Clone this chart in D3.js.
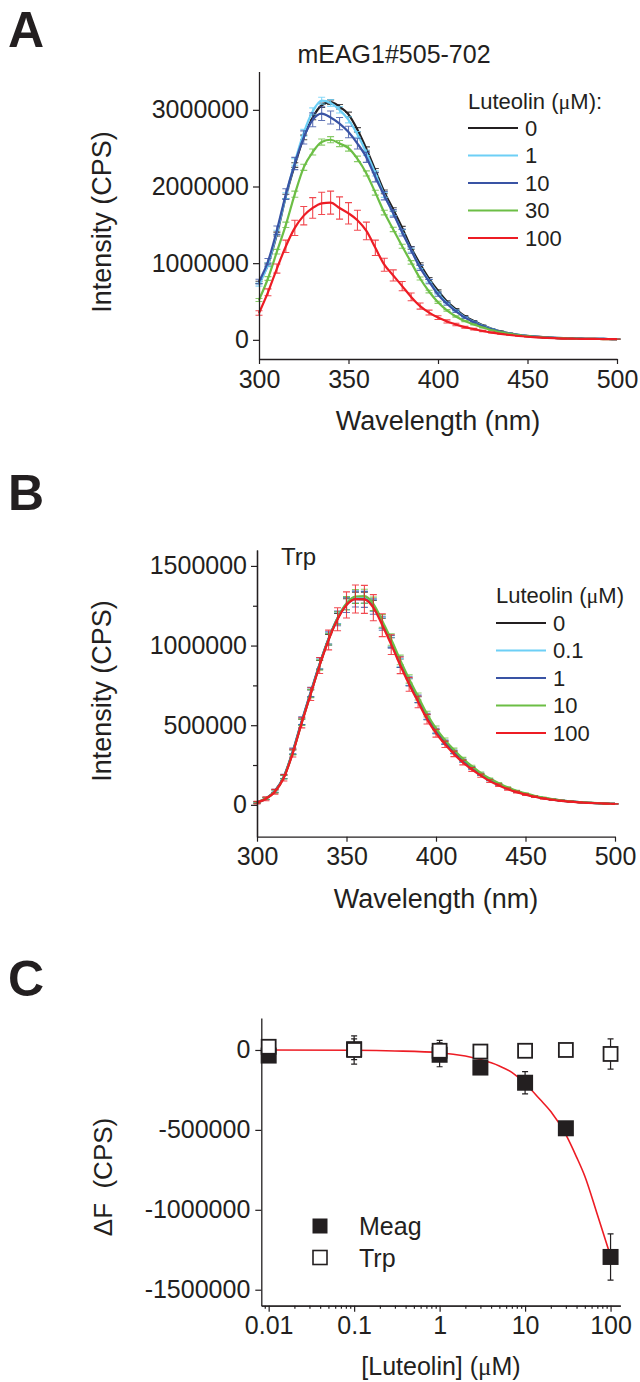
<!DOCTYPE html>
<html>
<head>
<meta charset="utf-8">
<script src="https://cdn.jsdelivr.net/npm/d3@7"></script>
<style>
	body { margin: 0; background: #fff; }
	svg { display: block; }
	text { font-family: "Liberation Sans", Arial, sans-serif; fill: #231f20; }
	.mu { font-family: "Liberation Serif", "Times New Roman", serif; }
</style>
</head>
<body>
<div id="chart-area"></div>
<script>
const WIDTH = 640
const HEIGHT = 1382
const INK = "#231f20"
const COLORS = ["#231f20", "#6dcff6", "#3953a4", "#6cbe45", "#ed1c24"]

// ---- data ----
// emission wavelengths (nm)
const wavelengths = [300, 305, 310, 315, 320, 325, 330, 335, 340, 345,
	350, 355, 360, 365, 370, 375, 380, 385, 390, 395,
	400, 405, 410, 415, 420, 425, 430, 435, 440, 445,
	450, 455, 460, 465, 470, 475, 480, 485, 490, 495, 500]
const wlTicks = [300, 350, 400, 450, 500]

// panel A: mEAG1#505-702, intensity in thousands of CPS
const aDoses = ["0", "1", "10", "30", "100"]
const aMean0 = [750, 980, 1380, 1870, 2280, 2640, 2900, 3060, 3100, 3040,
	2940, 2740, 2490, 2210, 1930, 1700, 1460, 1200, 990, 800,
	640, 500, 400, 310, 245, 190, 145, 110, 85, 66,
	52, 41, 33, 27, 22, 18, 15, 13, 12, 11, 10]
const aMean1 = [720, 980, 1400, 1880, 2320, 2700, 2980, 3120, 3090, 3000,
	2870, 2680, 2440, 2170, 1890, 1650, 1410, 1170, 950, 770,
	610, 480, 380, 295, 235, 182, 140, 106, 82, 64,
	50, 40, 32, 26, 21, 17, 15, 13, 12, 11, 10]
const aMean10 = [760, 1020, 1430, 1900, 2300, 2640, 2870, 2950, 2900, 2820,
	2710, 2560, 2380, 2120, 1880, 1650, 1400, 1170, 940, 760,
	590, 470, 370, 290, 230, 178, 137, 104, 80, 62,
	49, 39, 31, 25, 20, 17, 15, 13, 12, 11, 10]
const aMean30 = [520, 800, 1150, 1500, 1900, 2250, 2450, 2580, 2610, 2560,
	2500, 2360, 2170, 1920, 1660, 1440, 1220, 1010, 800, 630,
	490, 385, 305, 245, 200, 160, 125, 98, 77, 60,
	47, 37, 29, 24, 19, 16, 14, 12, 11, 10, 10]
const aMean100 = [350, 620, 930, 1220, 1460, 1620, 1720, 1780, 1790, 1720,
	1650, 1560, 1420, 1200, 980, 840, 700, 560, 440, 355,
	290, 240, 200, 165, 140, 115, 95, 78, 63, 50,
	40, 32, 26, 21, 17, 15, 13, 12, 11, 10, 10]
const aErr0 = [15, 20, 25, 28, 30, 30, 30, 30, 30, 30,
	30, 28, 27, 25, 24, 22, 20, 18, 16, 14,
	12, 10, 8, 6, 5, 4, 3, 3, 2, 2,
	2, 2, 2, 1, 1, 1, 1, 1, 1, 1, 1]
const aErr1 = [20, 25, 30, 38, 42, 45, 45, 45, 45, 42,
	40, 38, 36, 34, 32, 30, 27, 24, 20, 17,
	14, 11, 9, 7, 6, 5, 4, 3, 3, 2,
	2, 2, 2, 1, 1, 1, 1, 1, 1, 1, 1]
const aErr10 = [30, 40, 55, 70, 80, 85, 90, 90, 85, 80,
	75, 70, 65, 60, 55, 50, 45, 40, 34, 28,
	22, 18, 14, 11, 9, 7, 5, 4, 3, 3,
	2, 2, 2, 2, 1, 1, 1, 1, 1, 1, 1]
const aErr30 = [20, 25, 30, 35, 40, 40, 40, 40, 40, 40,
	38, 36, 34, 32, 30, 28, 26, 23, 20, 17,
	14, 11, 9, 7, 6, 5, 4, 3, 3, 2,
	2, 2, 2, 1, 1, 1, 1, 1, 1, 1, 1]
const aErr100 = [30, 45, 60, 80, 100, 120, 135, 145, 150, 145,
	140, 130, 115, 100, 85, 72, 60, 50, 40, 32,
	25, 20, 16, 12, 10, 8, 6, 5, 4, 3,
	3, 2, 2, 2, 2, 1, 1, 1, 1, 1, 1]
const aYTicks = [0, 1000000, 2000000, 3000000]

// panel B: free Trp, intensity in thousands of CPS
const bDoses = ["0", "0.1", "1", "10", "100"]
const bMean0 = [15, 40, 85, 175, 330, 520, 700, 880, 1040, 1170,
	1260, 1300, 1300, 1250, 1140, 1020, 890, 770, 660, 550,
	460, 390, 330, 275, 230, 190, 155, 128, 103, 83,
	67, 53, 42, 33, 26, 21, 16, 13, 10, 8, 6]
const bMean01 = [14, 38, 86, 176, 334, 524, 704, 884, 1044, 1174,
	1264, 1305, 1303, 1252, 1142, 1022, 892, 772, 662, 552,
	462, 392, 331, 276, 231, 191, 156, 129, 104, 84,
	68, 54, 43, 34, 27, 21, 17, 13, 10, 8, 6]
const bMean1 = [16, 41, 88, 178, 338, 528, 708, 886, 1044, 1170,
	1256, 1292, 1290, 1245, 1140, 1024, 896, 776, 666, 556,
	466, 395, 334, 279, 234, 193, 158, 130, 105, 85,
	68, 54, 43, 34, 27, 22, 17, 13, 10, 8, 6]
const bMean10 = [15, 40, 84, 174, 330, 518, 698, 878, 1040, 1172,
	1265, 1308, 1310, 1262, 1155, 1038, 910, 790, 680, 570,
	480, 408, 346, 290, 243, 201, 165, 136, 110, 89,
	72, 57, 45, 36, 28, 22, 17, 14, 11, 8, 6]
const bMean100 = [14, 38, 82, 170, 325, 515, 695, 875, 1035, 1165,
	1255, 1292, 1290, 1238, 1128, 1006, 876, 756, 646, 538,
	450, 380, 320, 266, 222, 183, 149, 123, 99, 80,
	64, 51, 40, 32, 25, 20, 15, 12, 10, 8, 6]
const bErr0 = [4, 6, 8, 10, 14, 18, 22, 26, 30, 32,
	34, 35, 35, 34, 32, 30, 26, 22, 19, 16,
	13, 11, 9, 8, 6, 5, 4, 4, 3, 3,
	2, 2, 2, 2, 1, 1, 1, 1, 1, 1, 1]
const bErr01 = [4, 6, 8, 12, 15, 20, 25, 30, 34, 36,
	38, 38, 38, 36, 34, 30, 26, 22, 19, 16,
	13, 11, 9, 8, 6, 5, 4, 4, 3, 3,
	2, 2, 2, 2, 1, 1, 1, 1, 1, 1, 1]
const bErr1 = [5, 7, 10, 14, 18, 24, 30, 36, 42, 46,
	48, 50, 50, 48, 44, 40, 34, 28, 23, 19,
	15, 12, 10, 8, 7, 6, 5, 4, 3, 3,
	2, 2, 2, 2, 1, 1, 1, 1, 1, 1, 1]
const bErr10 = [4, 6, 9, 12, 16, 20, 26, 32, 36, 40,
	42, 44, 44, 42, 40, 36, 30, 26, 22, 18,
	15, 12, 10, 8, 6, 5, 4, 4, 3, 3,
	2, 2, 2, 2, 1, 1, 1, 1, 1, 1, 1]
const bErr100 = [8, 12, 15, 20, 25, 32, 40, 50, 62, 72,
	82, 88, 88, 82, 72, 62, 52, 43, 36, 30,
	25, 20, 17, 15, 12, 10, 9, 8, 7, 6,
	5, 4, 4, 3, 3, 3, 2, 2, 2, 2, 2]
const bYTicks = [0, 500000, 1000000, 1500000]
const bYMinor = [250000, 750000, 1250000]

// panel C: change in fluorescence vs luteolin (uM)
const concC = [0.01, 0.1, 1, 3, 10, 30, 100]
const meagDF = [-35000, 5000, -30000, -110000, -205000, -490000, -1295000]
const meagErr = [15000, 65000, 75000, 20000, 70000, 15000, 145000]
const trpDF = [20000, 0, -5000, -10000, -5000, 0, -25000]
const trpErr = [10000, 88000, 65000, 10000, 10000, 10000, 95000]
const fitConc = [0.01, 0.1, 0.3, 1, 2, 3, 5, 7, 10, 15, 20, 30, 40, 50, 70, 100]
const fitDF = [0, -2000, -6000, -17000, -38000, -60000, -100000, -140000, -210000,
	-310000, -385000, -530000, -670000, -790000, -1030000, -1290000]
const cXTicks = [0.01, 0.1, 1, 10, 100]
const cYTicks = [0, -500000, -1000000, -1500000]

// ---- drawing ----
const svg = d3.select("#chart-area").append("svg")
	.attr("width", WIDTH)
	.attr("height", HEIGHT)

function styleAxis(sel, fontSize) {
	sel.attr("color", INK).attr("font-family", null)
	sel.select(".domain").attr("stroke-width", 1.3)
	sel.selectAll(".tick line").attr("stroke-width", 1.2)
	sel.selectAll(".tick text").attr("font-size", fontSize)
}

function muText(sel, before, after) {
	sel.append("tspan").text(before)
	sel.append("tspan").attr("class", "mu").text("\u03bc")
	sel.append("tspan").text(after)
}

function panelLetter(letter, y) {
	svg.append("text")
		.attr("x", 8)
		.attr("y", y)
		.attr("font-size", 50)
		.attr("font-weight", "bold")
		.text(letter)
}

function yTitle(x, y, label) {
	return svg.append("text")
		.attr("transform", `translate(${x}, ${y}) rotate(-90)`)
		.attr("text-anchor", "middle")
		.attr("font-size", 27)
		.text(label)
}

function spectrumPanel(p) {
	const x = d3.scaleLinear().domain([300, 500]).range([p.left, p.right])
	const y = d3.scaleLinear().domain(p.yDomain).range([p.bottom, p.top])
	const g = svg.append("g")

	// error bars first, then the mean line, series by series
	p.series.forEach((s, i) => {
		const pts = wavelengths.map((w, j) => ({ w: w, v: s.mean[j] * 1000, e: s.err[j] * 1000 }))
		g.append("g")
			.attr("stroke", COLORS[i])
			.attr("stroke-opacity", 0.8)
			.attr("stroke-width", 1.1)
			.attr("fill", "none")
			.selectAll("path")
			.data(pts)
			.join("path")
			.attr("d", d => {
				const xx = x(d.w), lo = y(d.v - d.e), hi = y(d.v + d.e)
				return `M${xx},${lo}V${hi}M${xx - 3.5},${lo}h7M${xx - 3.5},${hi}h7`
			})
		g.append("path")
			.datum(pts)
			.attr("fill", "none")
			.attr("stroke", COLORS[i])
			.attr("stroke-width", 2.2)
			.attr("d", d3.line().x(d => x(d.w)).y(d => y(d.v)).curve(d3.curveMonotoneX))
	})

	// axes
	g.append("g")
		.attr("transform", `translate(0, ${p.bottom})`)
		.call(d3.axisBottom(x).tickValues(wlTicks).tickSize(5).tickPadding(6).tickSizeOuter(0))
		.call(sel => styleAxis(sel, 25))
	if (p.yMinor) {
		g.append("g")
			.attr("transform", `translate(${p.left}, 0)`)
			.call(d3.axisLeft(y).tickValues(p.yMinor).tickSize(4).tickFormat("").tickSizeOuter(0))
			.call(sel => styleAxis(sel, 25))
	}
	g.append("g")
		.attr("transform", `translate(${p.left}, 0)`)
		.call(d3.axisLeft(y).tickValues(p.yTicks).tickFormat(d => String(d)).tickSize(6).tickPadding(4).tickSizeOuter(0))
		.call(sel => styleAxis(sel, 25))

	// legend
	const lg = p.legend
	muText(g.append("text").attr("x", lg.x).attr("y", lg.titleY).attr("font-size", 22), "Luteolin (", lg.tail)
	p.series.forEach((s, i) => {
		const ly = lg.firstY + i * lg.step
		g.append("line")
			.attr("x1", lg.x).attr("x2", lg.x + 50)
			.attr("y1", ly).attr("y2", ly)
			.attr("stroke", COLORS[i])
			.attr("stroke-width", 2)
		g.append("text")
			.attr("x", lg.x + 57)
			.attr("y", ly)
			.attr("dy", "0.36em")
			.attr("font-size", 22)
			.text(s.dose)
	})

	// x title
	g.append("text")
		.attr("x", (p.left + p.right) / 2)
		.attr("y", p.bottom + 71)
		.attr("text-anchor", "middle")
		.attr("font-size", 27)
		.text("Wavelength (nm)")
}

// ---- panel A ----
panelLetter("A", 47)
svg.append("text")
	.attr("x", 394)
	.attr("y", 63)
	.attr("text-anchor", "middle")
	.attr("font-size", 25)
	.text("mEAG1#505-702")
spectrumPanel({
	left: 259, right: 617, top: 71.5, bottom: 359,
	yDomain: [-250000, 3500000],
	yTicks: aYTicks,
	series: [
		{ dose: aDoses[0], mean: aMean0, err: aErr0 },
		{ dose: aDoses[1], mean: aMean1, err: aErr1 },
		{ dose: aDoses[2], mean: aMean10, err: aErr10 },
		{ dose: aDoses[3], mean: aMean30, err: aErr30 },
		{ dose: aDoses[4], mean: aMean100, err: aErr100 }
	],
	legend: { x: 468, titleY: 109, firstY: 128, step: 27.5, tail: "M):" }
})
yTitle(111, 222, "Intensity (CPS)")

// ---- panel B ----
panelLetter("B", 510)
svg.append("text")
	.attr("x", 281)
	.attr("y", 565)
	.attr("font-size", 24)
	.text("Trp")
spectrumPanel({
	left: 257, right: 615, top: 550, bottom: 836.7,
	yDomain: [-200000, 1600000],
	yTicks: bYTicks,
	yMinor: bYMinor,
	series: [
		{ dose: bDoses[0], mean: bMean0, err: bErr0 },
		{ dose: bDoses[1], mean: bMean01, err: bErr01 },
		{ dose: bDoses[2], mean: bMean1, err: bErr1 },
		{ dose: bDoses[3], mean: bMean10, err: bErr10 },
		{ dose: bDoses[4], mean: bMean100, err: bErr100 }
	],
	legend: { x: 496, titleY: 603, firstY: 623, step: 27.5, tail: "M)" }
})
yTitle(111, 691, "Intensity (CPS)")

// ---- panel C ----
panelLetter("C", 996)
const xc = d3.scaleLog().domain([0.0082, 130]).range([261.3, 620.3])
const yc = d3.scaleLinear().domain([-1600000, 200000]).range([1305.7, 1018])
const gc = svg.append("g")

// minor log ticks 2..9 in each decade that falls inside the axis
const cXMinor = [0.001, 0.01, 0.1, 1, 10, 100]
	.flatMap(dec => [2, 3, 4, 5, 6, 7, 8, 9].map(m => m * dec))
	.filter(v => v >= 0.0082 && v <= 130)

gc.append("g")
	.attr("transform", "translate(0, 1305.7)")
	.call(d3.axisBottom(xc).tickValues(cXMinor).tickSize(3).tickFormat("").tickSizeOuter(0))
	.call(sel => styleAxis(sel, 25))
gc.append("g")
	.attr("transform", "translate(0, 1305.7)")
	.call(d3.axisBottom(xc).tickValues(cXTicks).tickFormat(d => String(d)).tickSize(6).tickPadding(5).tickSizeOuter(0))
	.call(sel => styleAxis(sel, 25))
gc.append("g")
	.attr("transform", "translate(261.3, 0)")
	.call(d3.axisLeft(yc).tickValues(cYTicks).tickFormat(d => String(d)).tickSize(6).tickPadding(5).tickSizeOuter(0))
	.call(sel => styleAxis(sel, 25))

// fitted curve
gc.append("path")
	.datum(fitConc.map((c, i) => ({ c: c, v: fitDF[i] })))
	.attr("fill", "none")
	.attr("stroke", "#ed1c24")
	.attr("stroke-width", 1.6)
	.attr("d", d3.line().x(d => xc(d.c)).y(d => yc(d.v)).curve(d3.curveMonotoneX))

function errBars(vals, errs) {
	gc.append("g")
		.attr("stroke", INK)
		.attr("stroke-width", 1.2)
		.attr("fill", "none")
		.selectAll("path")
		.data(concC.map((c, i) => ({ c: c, v: vals[i], e: errs[i] })))
		.join("path")
		.attr("d", d => {
			const xx = xc(d.c), lo = yc(d.v - d.e), hi = yc(d.v + d.e)
			return `M${xx},${lo}V${hi}M${xx - 3},${lo}h6M${xx - 3},${hi}h6`
		})
}

errBars(meagDF, meagErr)
gc.append("g")
	.selectAll("rect")
	.data(concC.map((c, i) => ({ c: c, v: meagDF[i] })))
	.join("rect")
	.attr("x", d => xc(d.c) - 8)
	.attr("y", d => yc(d.v) - 8)
	.attr("width", 16)
	.attr("height", 16)
	.attr("fill", INK)

errBars(trpDF, trpErr)
gc.append("g")
	.selectAll("rect")
	.data(concC.map((c, i) => ({ c: c, v: trpDF[i] })))
	.join("rect")
	.attr("x", d => xc(d.c) - 7)
	.attr("y", d => yc(d.v) - 7)
	.attr("width", 14)
	.attr("height", 14)
	.attr("fill", "#fff")
	.attr("stroke", INK)
	.attr("stroke-width", 1.8)

// legend
gc.append("rect")
	.attr("x", 312.5).attr("y", 1218.5)
	.attr("width", 15).attr("height", 15)
	.attr("fill", INK)
gc.append("rect")
	.attr("x", 313).attr("y", 1250.5)
	.attr("width", 14).attr("height", 14)
	.attr("fill", "#fff")
	.attr("stroke", INK)
	.attr("stroke-width", 1.6)
gc.append("text")
	.attr("x", 359).attr("y", 1226).attr("dy", "0.36em")
	.attr("font-size", 25)
	.text("Meag")
gc.append("text")
	.attr("x", 359).attr("y", 1257.5).attr("dy", "0.36em")
	.attr("font-size", 25)
	.text("Trp")

// axis titles
muText(gc.append("text")
	.attr("x", 441)
	.attr("y", 1375)
	.attr("text-anchor", "middle")
	.attr("font-size", 25), "[Luteolin] (", "M)")
yTitle(112, 1177, "\u0394F\u00a0\u00a0(CPS)").attr("font-size", 26)
</script>
</body>
</html>
